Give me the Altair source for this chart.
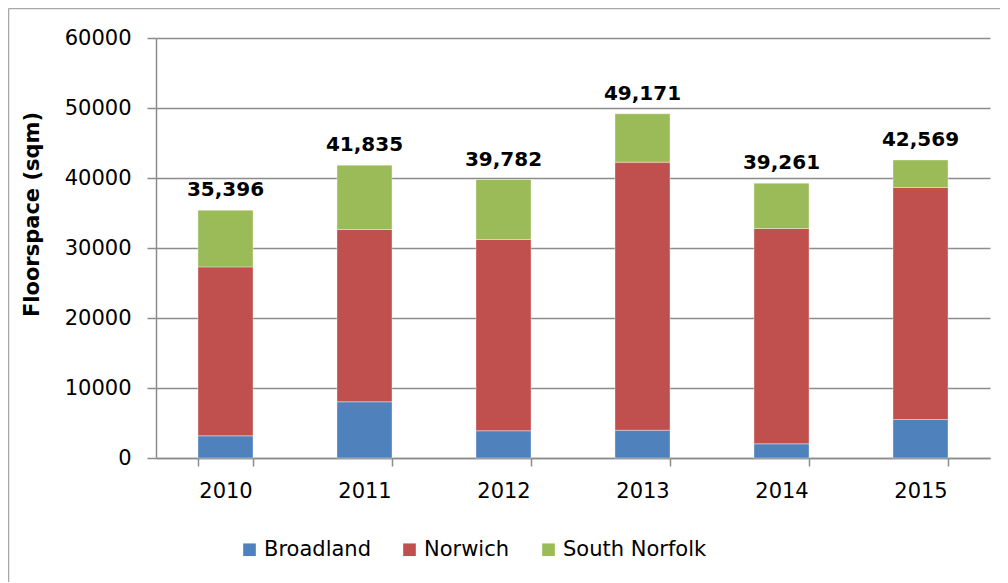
import altair as alt
import pandas as pd

years = ["2010", "2011", "2012", "2013", "2014", "2015"]
broadland = [3170, 8030, 3890, 3970, 2030, 5500]
norwich = [24130, 24610, 27320, 38290, 30760, 33140]
south_norfolk = [8096, 9195, 8572, 6911, 6471, 3929]
totals = [35396, 41835, 39782, 49171, 39261, 42569]
series = ["Broadland", "Norwich", "South Norfolk"]
colors = ["#4F81BD", "#C0504D", "#9BBB59"]

rows = []
for i, y in enumerate(years):
    for k, (name, vals) in enumerate(zip(series, [broadland, norwich, south_norfolk])):
        rows.append({"year": y, "series": name, "value": vals[i], "order": k})
df = pd.DataFrame(rows)
tot_df = pd.DataFrame({"year": years, "total": totals})

FONT = "DejaVu Sans"
GRID = "#8C8C8C"

x_enc = alt.X("year:N", title=None,
              scale=alt.Scale(paddingInner=0.604, paddingOuter=0.302),
              axis=alt.Axis(labelAngle=0, tickBand="extent", tickSize=8,
                            labelPadding=14, labelFontSize=21, labelFont=FONT,
                            labelColor="#000000", domainColor=GRID, tickColor=GRID,
                            domainWidth=1.5, tickWidth=1.5))

bars = alt.Chart(df).mark_bar(stroke="white", strokeWidth=0.6, strokeOpacity=0.6).encode(
    x=x_enc,
    y=alt.Y("value:Q", stack="zero", title="Floorspace (sqm)",
            scale=alt.Scale(domain=[0, 60000], nice=False),
            axis=alt.Axis(values=[0, 10000, 20000, 30000, 40000, 50000, 60000],
                          format="d", tickSize=9, labelPadding=16,
                          labelFontSize=21, labelFont=FONT, labelColor="#000000",
                          gridColor=GRID, gridWidth=1.5, domainColor=GRID,
                          tickColor=GRID, domainWidth=1.5, tickWidth=1.5,
                          titleFont=FONT, titleFontSize=21, titleFontWeight="bold",
                          titleColor="#000000", titleAngle=270, titleX=-114,
                          titleY=176, titleAlign="center", titleBaseline="bottom")),
    color=alt.Color("series:N", sort=series,
                    scale=alt.Scale(domain=series, range=colors),
                    legend=alt.Legend(title=None, orient="none", direction="horizontal",
                                      legendX=83, legendY=501, symbolType="square",
                                      symbolSize=160, symbolStrokeWidth=0,
                                      labelFont=FONT, labelFontSize=21,
                                      labelColor="#000000", columnPadding=28,
                                      labelOffset=4)),
    order=alt.Order("order:Q", sort="ascending"),
)

labels = alt.Chart(tot_df).mark_text(
    font=FONT, fontSize=20, fontWeight="bold", color="#000000",
    baseline="alphabetic", dy=-14
).encode(
    x=alt.X("year:N"),
    y=alt.Y("total:Q"),
    text=alt.Text("total:Q", format=","),
)

border_data = alt.Data(values=[{"a": 1}])
left_border = alt.Chart(border_data).mark_rule(color="#A6A6A6", strokeWidth=1.5).encode(
    x=alt.value(-147.5), y=alt.value(-29.5), y2=alt.value(620)
)
top_border = alt.Chart(border_data).mark_rule(color="#A6A6A6", strokeWidth=1.5).encode(
    x=alt.value(-147.5), x2=alt.value(900), y=alt.value(-29.5)
)

chart = alt.layer(bars, labels, left_border, top_border).properties(
    width=834, height=420,
    autosize=alt.AutoSizeParams(type="none"),
    padding={"left": 148, "top": 30, "right": 10, "bottom": 124},
).configure_view(stroke=None)

chart.save("out.html", embed_options={"renderer": "svg", "actions": False})
